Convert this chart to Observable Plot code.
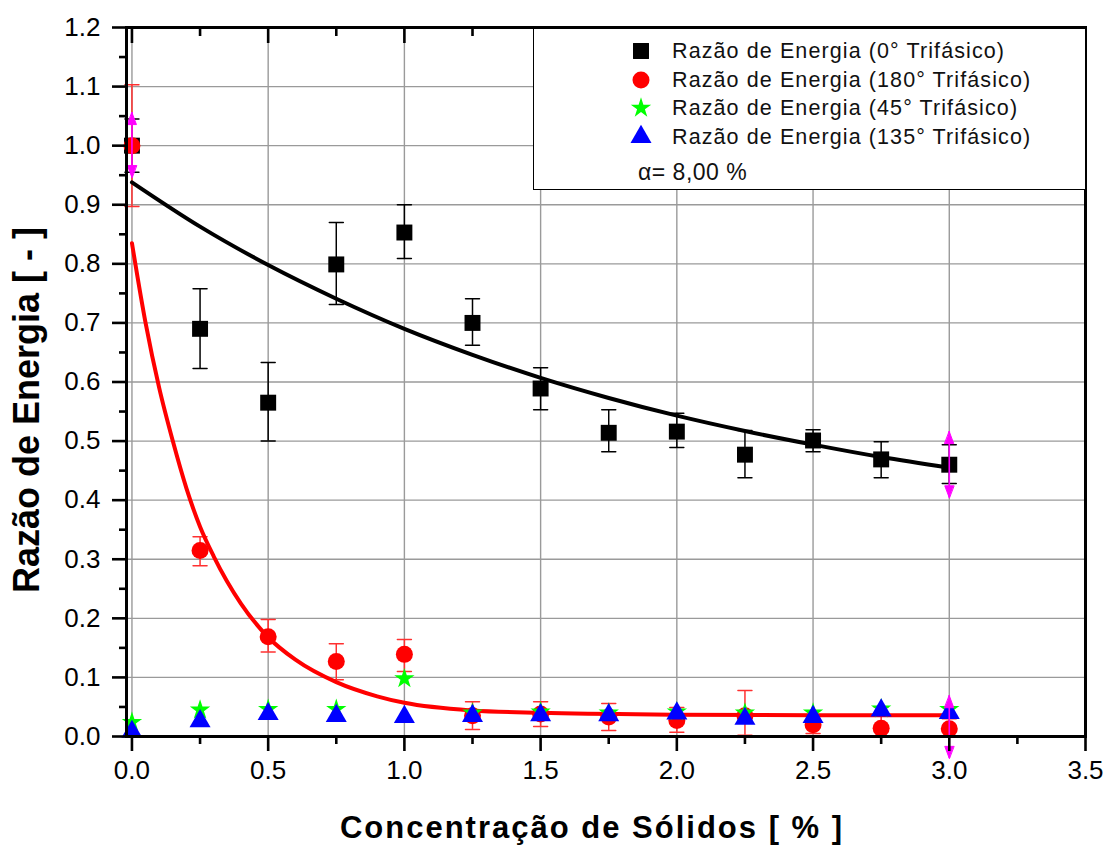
<!DOCTYPE html>
<html><head><meta charset="utf-8">
<script src="https://cdn.jsdelivr.net/npm/d3@7"></script>
<script src="https://cdn.jsdelivr.net/npm/@observablehq/plot@0.6"></script>
<style>
body{margin:0;background:#fff;}
#wrap{position:relative;width:1112px;height:848px;font-family:"Liberation Sans",Arial,sans-serif;background:#fff;}
#legend{position:absolute;left:533px;top:26px;width:553px;height:164px;border:1.5px solid #000;border-top-width:3px;background:#fff;box-sizing:border-box;}
.row{position:absolute;left:0;height:30px;display:flex;align-items:center;color:#111;white-space:nowrap;}
.row svg{overflow:visible;}
</style></head><body><div id="wrap"></div>
<script>
// ---- data ----
const conc = [0, 0.25, 0.5, 0.75, 1.0, 1.25, 1.5, 1.75, 2.0, 2.25, 2.5, 2.75, 3.0];
const e0   = [1.000, 0.690, 0.565, 0.799, 0.853, 0.700, 0.589, 0.514, 0.516, 0.477, 0.501, 0.469, 0.460];
const e0Lo = [0.955, 0.623, 0.500, 0.731, 0.809, 0.662, 0.553, 0.482, 0.489, 0.438, 0.482, 0.438, 0.428];
const e0Hi = [1.045, 0.758, 0.633, 0.870, 0.900, 0.741, 0.624, 0.553, 0.547, 0.518, 0.519, 0.499, 0.494];
const e180   = [1.000, 0.315, 0.169, 0.127, 0.139, 0.035, 0.038, 0.033, 0.027, 0.035, 0.020, 0.014, 0.013];
const e180Lo = [0.897, 0.289, 0.143, 0.096, 0.110, 0.012, 0.017, 0.010, 0.007, 0.002, 0.005, 0.000, 0.000];
const e180Hi = [1.103, 0.338, 0.198, 0.157, 0.164, 0.059, 0.059, 0.056, 0.049, 0.078, 0.035, 0.050, 0.030];
const e45  = [0.024, 0.045, 0.046, 0.046, 0.098, 0.040, 0.042, 0.040, 0.042, 0.040, 0.040, 0.047, 0.046];
const e135 = [0.008, 0.026, 0.038, 0.035, 0.033, 0.035, 0.036, 0.036, 0.039, 0.030, 0.033, 0.044, 0.040];

// fitted curves
const fit0X = [0, 0.25, 0.5, 0.75, 1.0, 1.25, 1.5, 1.75, 2.0, 2.25, 2.5, 2.75, 3.0];
const fit0Y = [0.938, 0.863, 0.798, 0.741, 0.690, 0.646, 0.607, 0.573, 0.543, 0.517, 0.494, 0.473, 0.455];
const fit180X = [0, 0.05, 0.1, 0.15, 0.2, 0.25, 0.3, 0.4, 0.5, 0.6, 0.75, 0.9, 1.0, 1.25, 1.5, 2.0, 2.5, 3.0];
const fit180Y = [0.835, 0.700, 0.590, 0.500, 0.420, 0.355, 0.305, 0.225, 0.168, 0.130, 0.092, 0.068, 0.057, 0.044, 0.040, 0.037, 0.036, 0.036];

// magenta error arrows
const arrX  = [0, 3.0, 3.0];
const arrLo = [0.946, 0.404, -0.037];
const arrHi = [1.056, 0.516, 0.069];

// ticks & labels
const xTicks = [0, 0.5, 1.0, 1.5, 2.0, 2.5, 3.0, 3.5];
const xMinor = [0.25, 0.75, 1.25, 1.75, 2.25, 2.75, 3.25];
const yTicks = [0, 0.1, 0.2, 0.3, 0.4, 0.5, 0.6, 0.7, 0.8, 0.9, 1.0, 1.1, 1.2];
const yMinor = [0.05, 0.15, 0.25, 0.35, 0.45, 0.55, 0.65, 0.75, 0.85, 0.95, 1.05, 1.15];
const xTitle = "Concentração de Sólidos [ % ]";
const yTitle = "Razão de Energia [ - ]";
const seriesNames = ["Razão de Energia (0° Trifásico)", "Razão de Energia (180° Trifásico)", "Razão de Energia (45° Trifásico)", "Razão de Energia (135° Trifásico)"];
const seriesColors = ["#000000", "#ff0000", "#00ff00", "#0000ff"];
const seriesSymbols = ["square", "circle", "star", "triangle"];
const alphaLabel = "α= 8,00 %";

// ---- tables ----
const black = conc.map((x, i) => ({x, y: e0[i], lo: e0Lo[i], hi: e0Hi[i]}));
const red = conc.map((x, i) => ({x, y: e180[i], lo: e180Lo[i], hi: e180Hi[i]}));
const green = conc.map((x, i) => ({x, y: e45[i]}));
const blue = conc.map((x, i) => ({x, y: e135[i]}));
const fit0 = fit0X.map((x, i) => ({x, y: fit0Y[i]}));
const fit180 = fit180X.map((x, i) => ({x, y: fit180Y[i]}));
const arrows = arrX.map((x, i) => ({x, lo: arrLo[i], hi: arrHi[i]}));

const capShape = {draw(ctx, l) { ctx.moveTo(-l / 2, 0); ctx.lineTo(l / 2, 0); }};
const headShape = {draw(ctx, l) { ctx.moveTo(-4.5, 0); ctx.lineTo(4.5, 0); ctx.lineTo(0, -l); ctx.closePath(); }};
const fmt = d => d.toFixed(1);
const blank = () => "";
const grid = {stroke: "#9a9a9a", strokeOpacity: 1, strokeWidth: 1.4};
const tk = {strokeWidth: 2.6, stroke: "#000"};

const chart = Plot.plot({
  width: 1112, height: 848,
  marginLeft: 126, marginRight: 27, marginTop: 27, marginBottom: 112,
  style: {fontFamily: "'Liberation Sans', Arial, sans-serif", background: "#fff", color: "#000"},
  x: {domain: [-0.02, 3.5], label: null},
  y: {domain: [0, 1.2], label: null},
  marks: [
    Plot.gridX(xTicks, grid),
    Plot.gridY(yTicks, grid),
    // error bars
    Plot.ruleX(black, {x: "x", y1: "lo", y2: "hi", stroke: "#000", strokeWidth: 1.5}),
    Plot.vector(black, {x: "x", y: "lo", length: 14, shape: capShape, anchor: "start", stroke: "#000", strokeWidth: 1.5}),
    Plot.vector(black, {x: "x", y: "hi", length: 14, shape: capShape, anchor: "start", stroke: "#000", strokeWidth: 1.5}),
    Plot.ruleX(red, {x: "x", y1: "lo", y2: "hi", stroke: "#ff3030", strokeWidth: 1.5}),
    Plot.vector(red, {x: "x", y: "lo", length: 14, shape: capShape, anchor: "start", stroke: "#ff3030", strokeWidth: 1.5}),
    Plot.vector(red, {x: "x", y: "hi", length: 14, shape: capShape, anchor: "start", stroke: "#ff3030", strokeWidth: 1.5}),
    // points
    Plot.dot(black, {x: "x", y: "y", symbol: "square", r: 9, fill: "#000", stroke: null}),
    // fits
    Plot.line(fit0, {x: "x", y: "y", stroke: "#000", strokeWidth: 4, curve: "monotone-x"}),
    Plot.line(fit180, {x: "x", y: "y", stroke: "#ff0000", strokeWidth: 4, curve: "monotone-x"}),
    Plot.dot(red, {x: "x", y: "y", symbol: "circle", r: 8.5, fill: "#ff0000", stroke: null}),
    Plot.dot(green, {x: "x", y: "y", symbol: "star", r: 6.4, fill: "#00ff00", stroke: null}),
    Plot.dot(blue, {x: "x", y: "y", symbol: "triangle", r: 7.8, fill: "#0000ff", stroke: null}),
    // magenta arrows
    Plot.ruleX(arrows, {x: "x", y1: "lo", y2: "hi", stroke: "#ff00ff", strokeWidth: 1.6}),
    Plot.vector(arrows, {x: "x", y: "hi", length: 12, shape: headShape, anchor: "end", fill: "#ff00ff", stroke: "#ff00ff", strokeWidth: 1}),
    Plot.vector(arrows, {x: "x", y: "lo", length: 12, shape: headShape, anchor: "end", rotate: 180, fill: "#ff00ff", stroke: "#ff00ff", strokeWidth: 1}),
    // axes
    Plot.axisX(xTicks, {anchor: "bottom", tickSize: 15, tickPadding: 9, tickFormat: fmt, fontSize: 26, ...tk}),
    Plot.axisX(xMinor, {anchor: "bottom", tickSize: 8, tickFormat: blank, ...tk}),
    Plot.axisX(xTicks, {anchor: "top", tickSize: -15, tickFormat: blank, ...tk}),
    Plot.axisX(xMinor, {anchor: "top", tickSize: -8, tickFormat: blank, ...tk}),
    Plot.axisY(yTicks, {anchor: "left", tickSize: 14, tickPadding: 12, tickFormat: fmt, fontSize: 26, ...tk}),
    Plot.axisY(yMinor, {anchor: "left", tickSize: 7, tickFormat: blank, ...tk}),
    Plot.frame({stroke: "#000", strokeWidth: 3}),
    Plot.text([xTitle], {frameAnchor: "bottom", dy: 92, dx: -14, textAnchor: "middle", lineAnchor: "middle", fontSize: 31, fontWeight: "bold", fill: "#000"}),
    Plot.text([yTitle], {frameAnchor: "left", dx: -99, dy: 28, rotate: -90, textAnchor: "middle", lineAnchor: "middle", fontSize: 36, fontWeight: "bold", fill: "#000"})
  ]
});

const wrap = document.getElementById("wrap");
wrap.appendChild(chart);
d3.select(chart).selectAll("text").filter(function() { return this.textContent === xTitle; }).attr("letter-spacing", "2px");

// legend inside the plot
const legend = document.createElement("div");
legend.id = "legend";
wrap.appendChild(legend);
const rowTops = [7, 36, 64, 93];
seriesNames.forEach((name, i) => {
  const row = document.createElement("div");
  row.className = "row";
  row.style.top = rowTops[i] + "px";
  const sizes = {square: 9, circle: 8.5, star: 6.4, triangle: 7.8};
  const sym = d3.symbol(d3["symbol" + seriesSymbols[i][0].toUpperCase() + seriesSymbols[i].slice(1)], Math.PI * sizes[seriesSymbols[i]] ** 2)();
  row.innerHTML = `<svg width="22" height="22" style="margin-left:96px;margin-right:20px"><path transform="translate(11,11)" d="${sym}" fill="${seriesColors[i]}"/></svg><span style="font-size:21.5px;letter-spacing:1.1px">${name}</span>`;
  legend.appendChild(row);
});
const arow = document.createElement("div");
arow.className = "row";
arow.style.top = "128px";
arow.innerHTML = `<span style="margin-left:104px;font-size:23px;letter-spacing:0.5px">${alphaLabel}</span>`;
legend.appendChild(arow);
</script>
</body></html>
